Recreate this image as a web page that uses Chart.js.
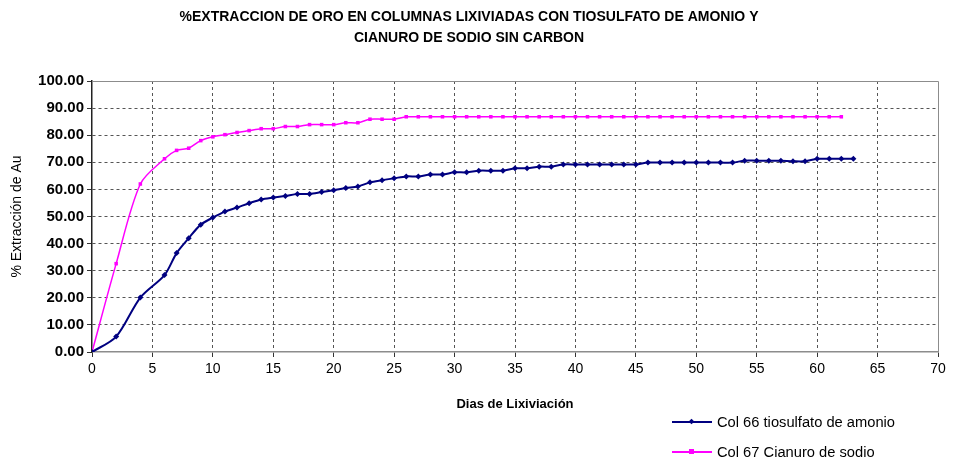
<!DOCTYPE html>
<html>
<head>
<meta charset="utf-8">
<script src="https://cdn.jsdelivr.net/npm/chart.js@4.4.1/dist/chart.umd.min.js"></script>
<style>
html, body { margin: 0; padding: 0; background: #fff; }
#wrap { position: relative; width: 953px; height: 463px; }
#legend { position: absolute; left: 672px; top: 0; font: 14.7px "Liberation Sans", Arial, sans-serif; color: #000; }
.item { position: absolute; left: 0; height: 20px; line-height: 20px; white-space: nowrap; }
.line { position: absolute; left: 0; top: 9px; width: 40px; height: 2px; }
.mark { position: absolute; left: 17px; top: 7px; width: 5px; height: 5px; }
.item span { position: absolute; left: 45px; top: 0; }
</style>
</head>
<body>
<div id="wrap">
  <canvas id="chart" width="953" height="463"></canvas>
  <div id="legend"></div>
</div>
<script>
// dias de lixiviacion (mediciones)
const days = [0, 2, 4, 6, 7, 8, 9, 10, 11, 12, 13, 14, 15, 16, 17, 18, 19, 20,
  21, 22, 23, 24, 25, 26, 27, 28, 29, 30, 31, 32, 33, 34, 35, 36, 37, 38, 39, 40,
  41, 42, 43, 44, 45, 46, 47, 48, 49, 50, 51, 52, 53, 54, 55, 56, 57, 58, 59, 60,
  61, 62, 63];

// Col 66 tiosulfato de amonio
const tiosulfato = [0, 5.7, 20.1, 28.4, 36.5, 42.0, 47.0, 49.6, 51.8, 53.3, 54.9, 56.3,
  57.0, 57.6, 58.3, 58.3, 59.0, 59.7, 60.5, 61.1, 62.6, 63.4, 64.1, 64.8, 64.8, 65.5,
  65.5, 66.3, 66.3, 66.9, 66.9, 66.9, 67.8, 67.8, 68.4, 68.4, 69.2, 69.2, 69.2, 69.2,
  69.2, 69.2, 69.2, 69.9, 69.9, 69.9, 69.9, 69.9, 69.9, 69.9, 69.9, 70.6, 70.6, 70.6,
  70.6, 70.4, 70.4, 71.3, 71.3, 71.3, 71.3];

// Col 67 cianuro de sodio (hasta dia 62)
const cianuro = [0, 32.6, 62.0, 71.3, 74.4, 75.2, 78.0, 79.4, 80.2, 81.0, 81.7, 82.4,
  82.4, 83.2, 83.2, 83.9, 83.9, 83.9, 84.6, 84.6, 85.9, 85.9, 85.9, 86.8, 86.8, 86.8,
  86.8, 86.8, 86.8, 86.8, 86.8, 86.8, 86.8, 86.8, 86.8, 86.8, 86.8, 86.8, 86.8, 86.8,
  86.8, 86.8, 86.8, 86.8, 86.8, 86.8, 86.8, 86.8, 86.8, 86.8, 86.8, 86.8, 86.8, 86.8,
  86.8, 86.8, 86.8, 86.8, 86.8, 86.8];

const titleLines = ['%EXTRACCION DE ORO EN COLUMNAS LIXIVIADAS CON TIOSULFATO DE AMONIO Y',
  'CIANURO DE SODIO SIN CARBON'];
const xTitle = 'Dias de Lixiviación';
const yTitle = '% Extracción de Au';

const FONT = '"Liberation Sans", Arial, sans-serif';

// marco gris arriba y a la derecha
const frame = {
  id: 'frame',
  beforeDatasetsDraw(chart) {
    const { ctx, chartArea: a } = chart;
    ctx.save();
    ctx.strokeStyle = '#8c8c8c';
    ctx.lineWidth = 1;
    ctx.beginPath();
    ctx.moveTo(a.left, Math.round(a.top) + 0.5);
    ctx.lineTo(Math.round(a.right) + 0.5, Math.round(a.top) + 0.5);
    ctx.lineTo(Math.round(a.right) + 0.5, a.bottom);
    ctx.stroke();
    ctx.restore();
  }
};

const toPts = (vals) => vals.map((v, i) => ({ x: days[i], y: v }));

const ctx = document.getElementById('chart').getContext('2d');
const chart = new Chart(ctx, {
  type: 'line',
  data: {
    datasets: [{
      label: 'Col 66 tiosulfato de amonio',
      data: toPts(tiosulfato),
      borderColor: '#000080',
      backgroundColor: '#000080',
      borderWidth: 2,
      pointStyle: 'rectRot',
      pointRadius: 3,
      pointBorderWidth: 0,
      tension: 0.3
    }, {
      label: 'Col 67 Cianuro de sodio',
      data: toPts(cianuro),
      borderColor: '#ff00ff',
      backgroundColor: '#ff00ff',
      borderWidth: 1.5,
      pointStyle: 'rect',
      pointRadius: 2.5,
      pointBorderWidth: 0,
      tension: 0.3
    }]
  },
  options: {
    responsive: false,
    animation: false,
    devicePixelRatio: 1,
    layout: { padding: { left: 0, right: 15, top: 0, bottom: 51 } },
    plugins: {
      legend: { display: false },
      tooltip: { enabled: false },
      title: {
        display: true,
        text: titleLines,
        color: '#000',
        font: { family: FONT, size: 14, weight: 'bold', lineHeight: 21 / 14 },
        padding: { top: 6.5, bottom: 32.5 }
      }
    },
    scales: {
      x: {
        type: 'linear',
        min: 0,
        max: 70,
        afterFit(scale) { scale.height = 60; },
        ticks: {
          stepSize: 5,
          maxRotation: 0,
          color: '#000',
          padding: 4,
          font: { family: FONT, size: 14 }
        },
        grid: {
          color: (c) => (c.tick.value === 0 || c.tick.value === 70) ? 'rgba(0,0,0,0)' : '#555',
          tickColor: '#333',
          tickLength: 5
        },
        border: { color: '#8c8c8c', width: 1.5, dash: [3, 3] },
        title: {
          display: true,
          text: xTitle,
          color: '#000',
          font: { family: FONT, size: 13, weight: 'bold', lineHeight: 1.2 },
          padding: 0
        }
      },
      y: {
        min: 0,
        max: 100,
        afterFit(scale) { scale.width = 92; },
        ticks: {
          stepSize: 10,
          color: '#000',
          padding: 3,
          font: { family: FONT, size: 15, weight: 'bold' },
          callback: (v) => v.toFixed(2)
        },
        grid: {
          color: (c) => (c.tick.value === 0 || c.tick.value === 100) ? 'rgba(0,0,0,0)' : '#555',
          tickColor: '#333',
          tickLength: 5
        },
        border: { color: '#222', width: 1.5, dash: [3, 3] },
        title: {
          display: true,
          text: yTitle,
          color: '#000',
          font: { family: FONT, size: 14, lineHeight: 1.2 },
          padding: { top: 9, bottom: 0 }
        }
      }
    }
  },
  plugins: [frame]
});

// leyenda abajo a la derecha, una serie por fila
const legend = document.getElementById('legend');
const rowTops = [412, 442];
chart.data.datasets.forEach((ds, i) => {
  const item = document.createElement('div');
  item.className = 'item';
  item.style.top = rowTops[i] + 'px';
  const line = document.createElement('div');
  line.className = 'line';
  line.style.background = ds.borderColor;
  const mark = document.createElement('div');
  mark.className = 'mark';
  mark.style.background = ds.borderColor;
  if (ds.pointStyle === 'rectRot') mark.style.transform = 'rotate(45deg) scale(0.8)';
  const txt = document.createElement('span');
  txt.textContent = ds.label;
  item.append(line, mark, txt);
  legend.appendChild(item);
});
</script>
</body>
</html>
